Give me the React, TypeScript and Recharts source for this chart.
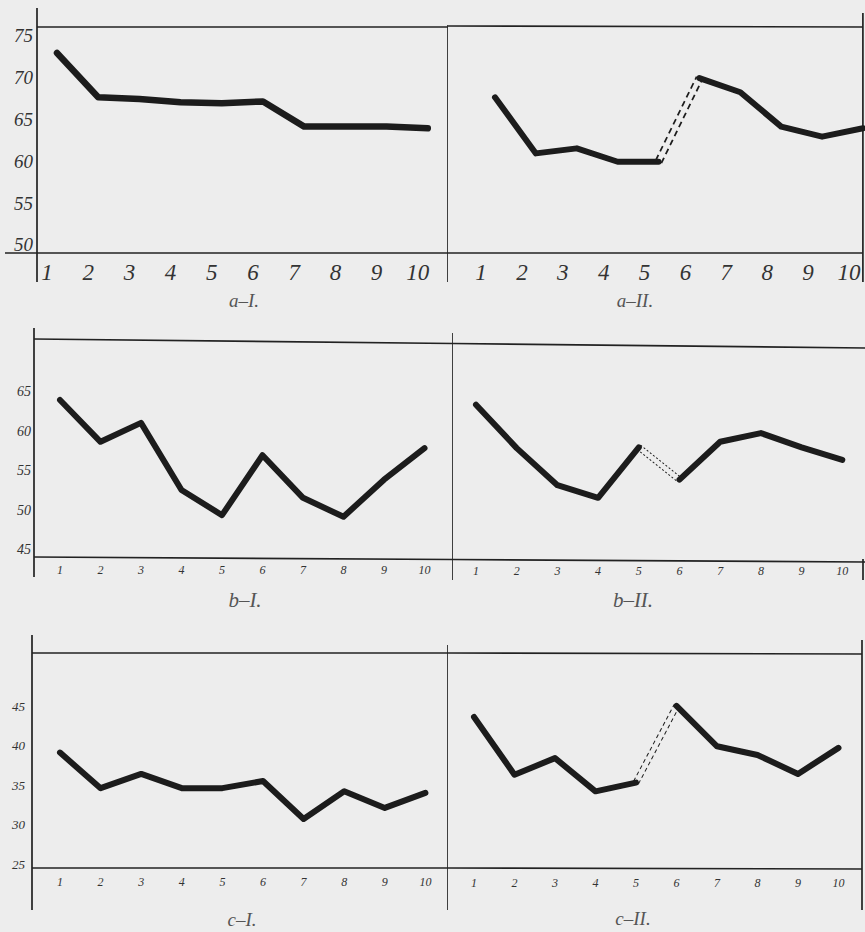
import React from 'react';
import { LineChart, Line, XAxis, YAxis, ReferenceLine, Label } from 'recharts';

// ---------- data ----------
const trials = [1, 2, 3, 4, 5, 6, 7, 8, 9, 10];
const aIValues = [72.9, 67.6, 67.4, 67.0, 66.9, 67.1, 64.1, 64.1, 64.1, 63.9];
const aIIValues = [67.6, 60.9, 61.5, 59.9, 59.9, 69.9, 68.2, 64.1, 62.9, 63.9];
const bIValues = [63.9, 58.6, 61.0, 52.5, 49.3, 56.9, 51.5, 49.1, 53.8, 57.8];
const bIIValues = [63.3, 57.8, 53.1, 51.5, 57.9, 53.8, 58.6, 59.7, 57.9, 56.3];
const cIValues = [39.1, 34.6, 36.4, 34.6, 34.6, 35.5, 30.7, 34.2, 32.1, 34.0];
const cIIValues = [43.6, 36.3, 38.4, 34.2, 35.3, 45.0, 39.9, 38.8, 36.4, 39.7];
const aTicks = [50, 55, 60, 65, 70, 75];
const bTicks = [45, 50, 55, 60, 65];
const cTicks = [25, 30, 35, 40, 45];
const gapAfterTrial = 5;
const captionAI = 'a–I.';
const captionAII = 'a–II.';
const captionBI = 'b–I.';
const captionBII = 'b–II.';
const captionCI = 'c–I.';
const captionCII = 'c–II.';

// ---------- styles ----------
const BG = '#ededed';
const INK = '#1c1c1c';
const FRAME = '#222';
const FONT = "'Liberation Serif', 'DejaVu Serif', serif";

type Seg = [number, number, number, number];

type PanelCfg = {
  left: number; top: number; width: number; height: number;
  plotLeft: number; plotRight: number; plotTop: number; plotBottom: number;
  firstPx: number; unitPx: number;
  yDomain: [number, number];
  yTicks?: number[];
  yFont?: number; yMargin?: number;
  values: number[];
  split: boolean;
  lineWidth: number;
  gap?: { outer: number; inner: number; dash: string };
  tickFont: number; tickDx: number; tickDy: number;
  caption: string; captionX: number; captionDy: number; captionFont: number;
  frame: Seg[];
};

const Panel = ({ cfg }: { cfg: PanelCfg }) => {
  const pw = cfg.plotRight - cfg.plotLeft;
  const ph = cfg.plotBottom - cfg.plotTop;
  const x0 = 1 - (cfg.firstPx - cfg.plotLeft) / cfg.unitPx;
  const x1 = x0 + pw / cfg.unitPx;
  const [y0, y1] = cfg.yDomain;
  const toX = (px: number) => x0 + ((px - cfg.plotLeft) / pw) * (x1 - x0);
  const toY = (py: number) => y1 - ((py - cfg.plotTop) / ph) * (y1 - y0);

  const data = trials.map((t, i) => {
    const v = cfg.values[i];
    if (!cfg.split) return { trial: t, v };
    return {
      trial: t,
      before: t <= gapAfterTrial ? v : null,
      after: t > gapAfterTrial ? v : null,
      gap: t === gapAfterTrial || t === gapAfterTrial + 1 ? v : null,
    };
  });

  const yAxisWidth = cfg.plotLeft - cfg.left;
  const renderTick = (p: any) => (
    <text
      x={p.x + cfg.tickDx}
      y={p.y + cfg.tickDy}
      textAnchor="middle"
      dominantBaseline="central"
      fontSize={cfg.tickFont}
      fontStyle="italic"
      fontFamily={FONT}
      fill="#333"
    >
      {p.payload.value}
    </text>
  );

  return (
    <div style={{ position: 'absolute', left: cfg.left, top: cfg.top }}>
      <LineChart
        width={cfg.width}
        height={cfg.height}
        data={data}
        margin={{
          top: cfg.plotTop - cfg.top,
          right: cfg.left + cfg.width - cfg.plotRight,
          bottom: 0,
          left: 0,
        }}
      >
        <XAxis
          type="number"
          dataKey="trial"
          domain={[x0, x1]}
          ticks={trials}
          interval={0}
          axisLine={false}
          tickLine={false}
          tickSize={0}
          tickMargin={0}
          height={cfg.top + cfg.height - cfg.plotBottom}
          tick={renderTick}
        >
          <Label
            content={(p: any) => {
              const vb = p.viewBox || {};
              return (
                <text
                  x={cfg.captionX - cfg.left}
                  y={(vb.y ?? cfg.plotBottom - cfg.top) + cfg.captionDy}
                  textAnchor="middle"
                  dominantBaseline="central"
                  fontSize={cfg.captionFont}
                  fontStyle="italic"
                  fontFamily={FONT}
                  fill="#555"
                >
                  {cfg.caption}
                </text>
              );
            }}
          />
        </XAxis>
        {cfg.yTicks ? (
          <YAxis
            type="number"
            domain={cfg.yDomain}
            ticks={cfg.yTicks}
            interval={0}
            width={yAxisWidth}
            axisLine={false}
            tickLine={false}
            tickSize={0}
            tickMargin={cfg.yMargin ?? 4}
            tick={{ fontSize: cfg.yFont, fontStyle: 'italic', fontFamily: FONT, fill: '#333' }}
          />
        ) : (
          <YAxis hide type="number" domain={cfg.yDomain} />
        )}
        {cfg.frame.map((s, i) => (
          <ReferenceLine
            key={'f' + i}
            segment={[
              { x: toX(s[0]), y: toY(s[1]) },
              { x: toX(s[2]), y: toY(s[3]) },
            ]}
            ifOverflow="visible"
            stroke={FRAME}
            strokeWidth={1.7}
          />
        ))}
        {cfg.split && cfg.gap && (
          <Line
            dataKey="gap"
            stroke={INK}
            strokeWidth={cfg.gap.outer}
            strokeDasharray={cfg.gap.dash}
            dot={false}
            activeDot={false}
            isAnimationActive={false}
          />
        )}
        {cfg.split && cfg.gap && (
          <Line
            dataKey="gap"
            stroke={BG}
            strokeWidth={cfg.gap.inner}
            dot={false}
            activeDot={false}
            isAnimationActive={false}
          />
        )}
        {cfg.split ? (
          <Line
            dataKey="before"
            stroke={INK}
            strokeWidth={cfg.lineWidth}
            strokeLinejoin="round"
            strokeLinecap="round"
            dot={false}
            activeDot={false}
            isAnimationActive={false}
          />
        ) : (
          <Line
            dataKey="v"
            stroke={INK}
            strokeWidth={cfg.lineWidth}
            strokeLinejoin="round"
            strokeLinecap="round"
            dot={false}
            activeDot={false}
            isAnimationActive={false}
          />
        )}
        {cfg.split && (
          <Line
            dataKey="after"
            stroke={INK}
            strokeWidth={cfg.lineWidth}
            strokeLinejoin="round"
            strokeLinecap="round"
            dot={false}
            activeDot={false}
            isAnimationActive={false}
          />
        )}
      </LineChart>
    </div>
  );
};

const panels: PanelCfg[] = [
  {
    left: 0, top: 0, width: 448, height: 315,
    plotLeft: 37, plotRight: 448, plotTop: 27, plotBottom: 253,
    firstPx: 57, unitPx: 41.2, yDomain: [49, 76], yTicks: aTicks, yFont: 19, yMargin: 4,
    values: aIValues, split: false, lineWidth: 6.5,
    tickFont: 23, tickDx: -10, tickDy: 19,
    caption: captionAI, captionX: 244, captionDy: 47, captionFont: 19,
    frame: [
      [37, 8, 37, 282], [448, 25, 448, 282], [37, 27, 448, 27], [5, 253, 448, 253],
    ],
  },
  {
    left: 448, top: 0, width: 417, height: 315,
    plotLeft: 448, plotRight: 863, plotTop: 27, plotBottom: 253,
    firstPx: 495, unitPx: 40.9, yDomain: [49, 76],
    values: aIIValues, split: true, lineWidth: 6,
    gap: { outer: 8, inner: 4.5, dash: '6 4' },
    tickFont: 23, tickDx: -14, tickDy: 19,
    caption: captionAII, captionX: 635, captionDy: 47, captionFont: 19,
    frame: [
      [448, 26, 863, 27], [448, 253, 863, 253], [863, 13, 863, 282],
    ],
  },
  {
    left: 0, top: 320, width: 453, height: 298,
    plotLeft: 34, plotRight: 453, plotTop: 340, plotBottom: 557,
    firstPx: 60, unitPx: 40.5, yDomain: [44, 71.5], yTicks: bTicks, yFont: 14, yMargin: 3,
    values: bIValues, split: false, lineWidth: 6,
    tickFont: 12, tickDx: 0, tickDy: 13,
    caption: captionBI, captionX: 245, captionDy: 43, captionFont: 21,
    frame: [
      [34, 328, 34, 577], [453, 333, 453, 580], [34, 339, 453, 343.5], [34, 557, 453, 559.5],
    ],
  },
  {
    left: 453, top: 320, width: 412, height: 298,
    plotLeft: 453, plotRight: 863, plotTop: 340, plotBottom: 557,
    firstPx: 476, unitPx: 40.7, yDomain: [44, 71.5],
    values: bIIValues, split: true, lineWidth: 6,
    gap: { outer: 6.5, inner: 4.5, dash: '2 2' },
    tickFont: 12, tickDx: 0, tickDy: 14,
    caption: captionBII, captionX: 633, captionDy: 43, captionFont: 21,
    frame: [
      [453, 343.5, 865, 348], [453, 559.5, 865, 562], [863, 559, 863, 580],
    ],
  },
  {
    left: 0, top: 630, width: 448, height: 302,
    plotLeft: 32, plotRight: 448, plotTop: 653, plotBottom: 868,
    firstPx: 60, unitPx: 40.6, yDomain: [24.5, 51.7], yTicks: cTicks, yFont: 13, yMargin: 7,
    values: cIValues, split: false, lineWidth: 6,
    tickFont: 12, tickDx: 0, tickDy: 14,
    caption: captionCI, captionX: 242, captionDy: 51, captionFont: 19,
    frame: [
      [32, 635, 32, 910], [448, 645, 448, 910], [32, 653, 448, 653], [32, 868, 448, 868],
    ],
  },
  {
    left: 448, top: 630, width: 417, height: 302,
    plotLeft: 448, plotRight: 862, plotTop: 653, plotBottom: 868,
    firstPx: 474, unitPx: 40.5, yDomain: [24.5, 51.7],
    values: cIIValues, split: true, lineWidth: 6,
    gap: { outer: 6.5, inner: 4.5, dash: '4 3' },
    tickFont: 12, tickDx: 0, tickDy: 15,
    caption: captionCII, captionX: 633, captionDy: 50, captionFont: 19,
    frame: [
      [448, 653, 862, 654], [448, 868, 862, 869], [862, 640, 862, 910],
    ],
  },
];

export default function App() {
  return (
    <div
      style={{
        position: 'absolute',
        left: 0,
        top: 0,
        width: 865,
        height: 932,
        background: BG,
        overflow: 'hidden',
      }}
    >
      {panels.map((p, i) => (
        <Panel key={i} cfg={p} />
      ))}
    </div>
  );
}
